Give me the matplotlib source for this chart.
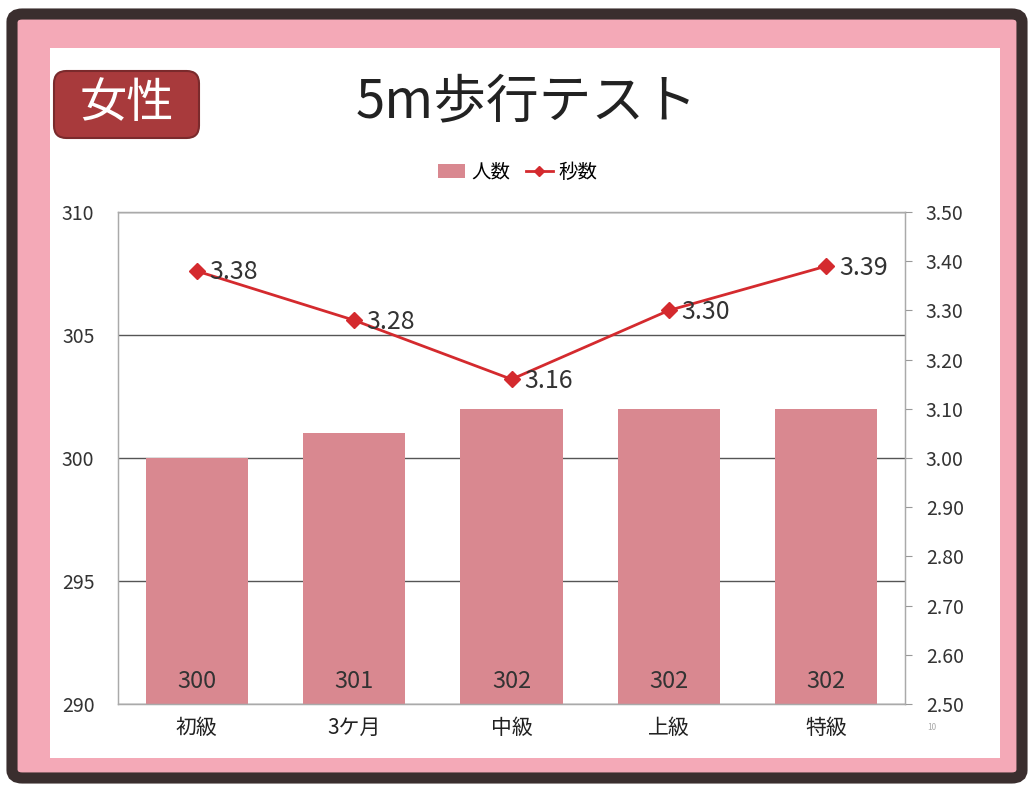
import matplotlib
matplotlib.use("Agg")
import matplotlib.pyplot as plt
from matplotlib.patches import FancyBboxPatch, Rectangle
from matplotlib.lines import Line2D

plt.rcParams['font.family'] = ['Noto Sans CJK JP', 'DejaVu Sans']

categories = ['初級', '3ケ月', '中級', '上級', '特級']
counts = [300, 301, 302, 302, 302]
seconds = [3.38, 3.28, 3.16, 3.30, 3.39]
left_ticks = [290, 295, 300, 305, 310]
right_ticks = [2.5, 2.6, 2.7, 2.8, 2.9, 3.0, 3.1, 3.2, 3.3, 3.4, 3.5]

W, H = 1036, 785
fig = plt.figure(figsize=(W / 100, H / 100), dpi=100)
fig.patch.set_facecolor('white')

def fx(x): return x / W
def fy(y): return 1 - y / H

# Frame: dark outline, pink band, white inner
fig.add_artist(FancyBboxPatch((fx(12), fy(778)), fx(1022) - fx(12), fy(14) - fy(778),
                              boxstyle="round,pad=0,rounding_size=0.01",
                              transform=fig.transFigure, facecolor='#F4A9B7',
                              edgecolor='#3A2E2E', linewidth=8, zorder=0))
fig.add_artist(Rectangle((fx(50), fy(758)), fx(1000) - fx(50), fy(48) - fy(758),
                         transform=fig.transFigure, facecolor='white',
                         edgecolor='none', zorder=0.5))

# Badge
fig.add_artist(FancyBboxPatch((fx(54), fy(138)), fx(199) - fx(54), fy(71) - fy(138),
                              boxstyle="round,pad=0,rounding_size=0.012",
                              transform=fig.transFigure, facecolor='#A83A3C',
                              edgecolor='#7A2A2C', linewidth=1.5, zorder=1,
                              mutation_aspect=W / H))
fig.text(fx(127), fy(104), '女性', color='white', fontsize=34,
         ha='center', va='center', zorder=2)

# Title
fig.text(fx(527), fy(102), '5m歩行テスト', color='#222222', fontsize=38,
         ha='center', va='center', zorder=2)

ax = fig.add_axes([fx(118), fy(704), fx(905) - fx(118), fy(212) - fy(704)])
ax.set_zorder(2)
ax.patch.set_alpha(0)
x = list(range(len(categories)))
bars = ax.bar(x, counts, width=0.65, color='#D98890', zorder=2, label='人数')
ax.set_ylim(290, 310)
ax.set_xlim(-0.5, 4.5)
ax.set_yticks(left_ticks)
ax.set_yticklabels([str(t) for t in left_ticks], fontsize=14, color='#333333')
ax.tick_params(axis='y', length=0, pad=17)
ax.set_xticks(x)
ax.set_xticklabels(categories, fontsize=15, color='#222222')
ax.tick_params(axis='x', length=0, pad=9)
ax.grid(axis='y', color='#555555', linewidth=1, zorder=1)
for s in ax.spines.values():
    s.set_color('#AAAAAA')
    s.set_linewidth(1)
for xi, c in zip(x, counts):
    ax.text(xi, 290.9, str(c), ha='center', va='center', fontsize=17,
            color='#333333', zorder=3)

ax2 = ax.twinx()
ax2.plot(x, seconds, color='#D42A2E', linewidth=2, marker='D', markersize=8,
         markerfacecolor='#D42A2E', markeredgecolor='#D42A2E', zorder=4, label='秒数')
ax2.set_ylim(2.5, 3.5)
ax2.set_yticks(right_ticks)
ax2.set_yticklabels([f'{t:.2f}' for t in right_ticks], fontsize=14, color='#333333')
ax2.tick_params(axis='y', length=5, color='#999999', pad=10, direction='out')
for s in ax2.spines.values():
    s.set_color('#AAAAAA')
for xi, sv in zip(x, seconds):
    ax2.annotate(f'{sv:.2f}', (xi, sv), xytext=(9, -1), textcoords='offset points',
                 ha='left', va='center', fontsize=18, color='#333333', zorder=5)

handles = [Rectangle((0, 0), 1, 1, facecolor='#D98890', edgecolor='none'),
           Line2D([0], [0], color='#D42A2E', linewidth=2, marker='D', markersize=5)]
fig.legend(handles, ['人数', '秒数'], loc='center', bbox_to_anchor=(fx(518), fy(172)),
           ncol=2, frameon=False, fontsize=14, handlelength=1.4, handletextpad=0.3,
           columnspacing=0.8)

fig.text(fx(932), fy(728), '10', fontsize=6, color='#AAAAAA', ha='center', va='center')

fig.savefig('out.png', dpi=100, facecolor='white')
